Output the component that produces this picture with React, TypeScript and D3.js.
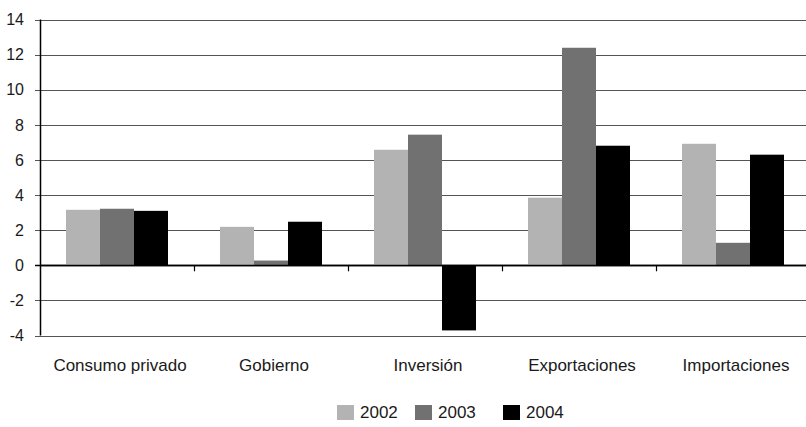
import { useEffect, useRef } from "react";
import * as d3 from "d3";

const categories = ["Consumo privado", "Gobierno", "Inversión", "Exportaciones", "Importaciones"];
const years = ["2002", "2003", "2004"];
const v2002 = [3.16, 2.19, 6.58, 3.85, 6.92];
const v2003 = [3.22, 0.27, 7.44, 12.39, 1.28];
const v2004 = [3.1, 2.48, -3.71, 6.81, 6.3];
const yTicks = [-4, -2, 0, 2, 4, 6, 8, 10, 12, 14];
const colors = ["#b3b3b3", "#717171", "#000000"];

export default function App() {
  const ref = useRef<SVGSVGElement | null>(null);

  useEffect(() => {
    if (!ref.current) return;
    const width = 806;
    const height = 427;
    const margin = { top: 20, right: -4, bottom: 91, left: 40 };
    const font = "'Liberation Sans', Arial, sans-serif";

    const svg = d3.select(ref.current);
    svg.selectAll("*").remove();

    const series = [v2002, v2003, v2004];

    const x0 = d3.scaleBand<string>()
      .domain(categories)
      .range([margin.left, width - margin.right])
      .padding(0);

    const x1 = d3.scaleBand<string>()
      .domain(years)
      .range([0, x0.bandwidth()])
      .paddingInner(0)
      .paddingOuter(0.765);

    const y = d3.scaleLinear()
      .domain([-4, 14])
      .range([height - margin.bottom - 0.5, margin.top - 0.5]);

    /* grid */
    svg.append("g")
      .selectAll("line")
      .data(yTicks)
      .enter()
      .append("line")
      .attr("x1", margin.left - 5)
      .attr("x2", width)
      .attr("y1", d => Math.round(y(d)) + 0.5)
      .attr("y2", d => Math.round(y(d)) + 0.5)
      .attr("stroke", d => (d === 0 ? "#000" : "#555"))
      .attr("stroke-width", d => (d === 0 ? 1.5 : 1.2));

    /* tick labels */
    svg.append("g")
      .selectAll("text")
      .data(yTicks)
      .enter()
      .append("text")
      .attr("x", 24)
      .attr("y", d => y(d))
      .attr("dy", "0.36em")
      .attr("text-anchor", "end")
      .attr("font-family", font)
      .attr("font-size", 16)
      .attr("fill", "#1a1a1a")
      .text(d => `${d}`);

    /* bars */
    categories.forEach((c, i) => {
      years.forEach((yr, j) => {
        const v = series[j][i];
        svg.append("rect")
          .attr("x", x0(c)! + x1(yr)!)
          .attr("y", y(Math.max(0, v)))
          .attr("width", x1.bandwidth())
          .attr("height", Math.abs(y(v) - y(0)))
          .attr("fill", colors[j]);
      });
    });

    /* zero line on top */
    svg.append("line")
      .attr("x1", margin.left)
      .attr("x2", width)
      .attr("y1", Math.round(y(0)) + 0.5)
      .attr("y2", Math.round(y(0)) + 0.5)
      .attr("stroke", "#000")
      .attr("stroke-width", 1.5);

    /* category ticks */
    svg.append("g")
      .selectAll("line")
      .data(categories.slice(1))
      .enter()
      .append("line")
      .attr("x1", d => Math.round(x0(d)!) + 0.5)
      .attr("x2", d => Math.round(x0(d)!) + 0.5)
      .attr("y1", y(0))
      .attr("y2", y(0) + 6)
      .attr("stroke", "#000")
      .attr("stroke-width", 1.2);

    /* y axis line */
    svg.append("line")
      .attr("x1", margin.left + 0.5)
      .attr("x2", margin.left + 0.5)
      .attr("y1", y(14))
      .attr("y2", y(-4))
      .attr("stroke", "#000")
      .attr("stroke-width", 1.5);

    /* category labels */
    svg.append("g")
      .selectAll("text")
      .data(categories)
      .enter()
      .append("text")
      .attr("x", d => x0(d)! + x0.bandwidth() / 2 + 3)
      .attr("y", 371)
      .attr("text-anchor", "middle")
      .attr("font-family", font)
      .attr("font-size", 17)
      .attr("fill", "#1a1a1a")
      .text(d => d);

    /* legend */
    const legendX = [337, 415, 503];
    const lg = svg.append("g");
    years.forEach((yr, j) => {
      lg.append("rect")
        .attr("x", legendX[j])
        .attr("y", 405)
        .attr("width", 17)
        .attr("height", 15)
        .attr("fill", colors[j]);
      lg.append("text")
        .attr("x", legendX[j] + 23)
        .attr("y", 418)
        .attr("font-family", font)
        .attr("font-size", 17)
        .attr("fill", "#1a1a1a")
        .text(yr);
    });
  }, []);

  return (
    <svg
      ref={ref}
      width={806}
      height={427}
      style={{ position: "absolute", left: 0, top: 0, background: "#fff" }}
    />
  );
}
